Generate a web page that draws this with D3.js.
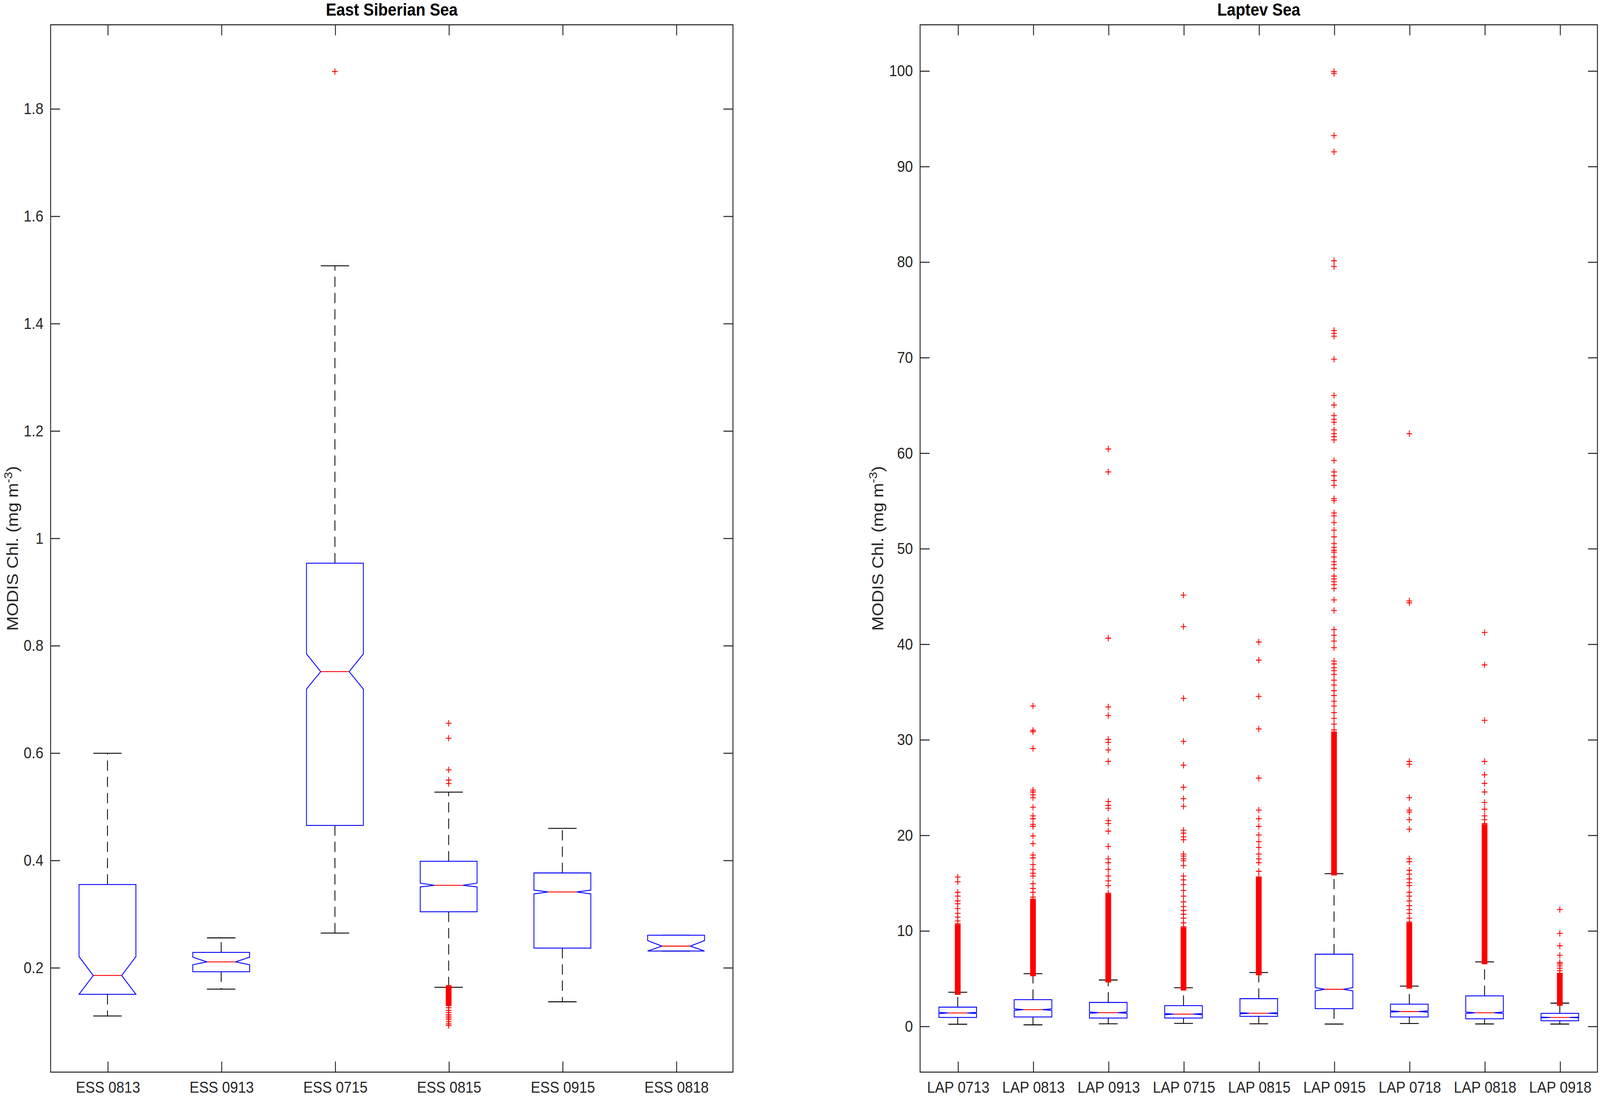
<!DOCTYPE html>
<html>
<head>
<meta charset="utf-8">
<script src="https://cdn.jsdelivr.net/npm/d3@7"></script>
<style>
  html, body { margin: 0; padding: 0; background: #fff; overflow: hidden; }
  svg { display: block; width: 100vw; height: 100vh; }
</style>
</head>
<body>
<div id="viz"></div>
<script>
// ---- East Siberian Sea ----
const essCategories = ['ESS 0813', 'ESS 0913', 'ESS 0715', 'ESS 0815', 'ESS 0915', 'ESS 0818'];
const essWhiskerLo = [0.1095, 0.1596, 0.264, 0.163, 0.136, 0.2306];
const essQ1        = [0.150, 0.192, 0.4645, 0.3037, 0.236, 0.2306];
const essNotchLo   = [0.150, 0.205, 0.7186, 0.350, 0.337, 0.2306];
const essMedian    = [0.185, 0.2104, 0.751, 0.353, 0.3406, 0.2397];
const essNotchHi   = [0.220, 0.219, 0.784, 0.357, 0.344, 0.250];
const essQ3        = [0.3545, 0.228, 0.953, 0.3977, 0.376, 0.260];
const essWhiskerHi = [0.599, 0.255, 1.507, 0.5265, 0.459, 0.260];
const essOutliers  = [
  [], [], [1.869],
  [0.655, 0.627, 0.568, 0.549, 0.5425, 0.129, 0.125, 0.120, 0.116, 0.112, 0.109, 0.106, 0.103, 0.099, 0.095, 0.092],
  [], []
];
// runs of outliers so close together that the markers merge into a solid bar
const essDense = [[], [], [], [[0.134, 0.161]], [], []];
const essTicks = [0.2, 0.4, 0.6, 0.8, 1, 1.2, 1.4, 1.6, 1.8];
const essDomain = [0.005, 1.956];

// ---- Laptev Sea ----
const lapCategories = ['LAP 0713', 'LAP 0813', 'LAP 0913', 'LAP 0715', 'LAP 0815', 'LAP 0915', 'LAP 0718', 'LAP 0818', 'LAP 0918'];
const lapWhiskerLo = [0.19, 0.13, 0.24, 0.28, 0.24, 0.21, 0.27, 0.22, 0.21];
const lapQ1        = [0.90, 0.95, 0.84, 0.84, 1.01, 1.82, 0.95, 0.76, 0.55];
const lapNotchLo   = [1.31, 1.64, 1.33, 1.19, 1.28, 3.68, 1.45, 1.31, 0.86];
const lapMedian    = [1.37, 1.72, 1.40, 1.25, 1.34, 3.85, 1.52, 1.39, 0.90];
const lapNotchHi   = [1.43, 1.80, 1.47, 1.31, 1.40, 4.02, 1.59, 1.47, 0.94];
const lapQ3        = [1.98, 2.76, 2.47, 2.14, 2.87, 7.52, 2.29, 3.16, 1.33];
const lapWhiskerHi = [3.54, 5.48, 4.82, 4.01, 5.60, 15.95, 4.18, 6.72, 2.40];
const lapOutliers  = [
  [15.6, 15.1, 14.0, 13.6, 13.1, 12.8, 12.3, 11.8, 11.4, 11.0, 10.7],
  [33.5, 30.95, 30.8, 29.05, 24.7, 24.5, 24.2, 23.9, 22.9, 22.0, 21.7, 21.1, 20.9, 19.9, 19.1, 17.9, 17.6, 16.9, 16.4, 16.0, 15.7, 14.9, 14.4, 14.0, 13.5],
  [60.4, 58.0, 40.6, 33.4, 32.5, 30.0, 29.7, 28.9, 27.7, 23.5, 23.1, 22.8, 21.5, 21.2, 20.4, 18.8, 17.5, 17.1, 16.4, 15.7, 15.2, 14.7, 13.9],
  [45.1, 41.8, 34.3, 29.8, 27.3, 25.0, 23.8, 23.0, 20.5, 20.2, 19.8, 19.5, 18.0, 17.8, 17.5, 17.3, 16.8, 15.7, 15.3, 14.8, 14.2, 13.6, 13.0, 12.5, 12.1, 11.7, 11.3, 10.8, 10.4],
  [40.2, 38.3, 34.5, 31.1, 25.95, 22.6, 21.7, 20.9, 20.0, 19.3, 18.7, 18.0, 17.5, 17.1, 16.2, 15.6],
  [99.9, 99.7, 93.2, 91.5, 80.1, 79.5, 72.8, 72.5, 72.2, 69.8, 66.0, 65.0, 63.9, 63.5, 63.2, 62.4, 62.0, 61.7, 61.35,
   59.2, 58.0, 57.6, 57.1, 56.6, 55.2, 55.0, 53.7, 53.4, 52.7, 51.9, 51.2, 50.5, 50.1, 49.8, 49.6, 49.1, 48.6, 48.3,
   47.9, 47.1, 46.8, 46.5, 46.2, 45.8, 44.6, 43.5, 41.5, 40.9, 40.3, 39.6, 38.2, 37.9, 37.5, 37.2, 36.8, 36.2, 35.7,
   35.1, 34.6, 34.0, 33.5, 32.8, 32.2, 31.6, 31.0],
  [62.0, 44.5, 44.3, 27.7, 27.4, 23.9, 22.6, 22.4, 21.6, 20.6, 17.5, 17.2, 16.3, 15.9, 15.4, 15.0, 14.7, 14.0, 13.6, 13.1, 12.6, 12.2, 11.8, 11.3, 10.9],
  [41.2, 37.8, 32.0, 27.7, 26.3, 25.4, 24.5, 23.4, 22.7, 22.0, 21.6, 21.2],
  [12.2, 9.7, 8.4, 7.4, 6.65, 6.5, 6.3, 6.05, 5.8, 5.5]
];
const lapDense = [
  [[3.6, 10.3]], [[5.55, 13.0]], [[4.9, 13.5]], [[4.05, 10.0]], [[5.65, 15.3]],
  [[16.1, 30.5]], [[4.25, 10.5]], [[6.8, 20.8]], [[2.45, 5.25]]
];
const lapTicks = [0, 10, 20, 30, 40, 50, 60, 70, 80, 90, 100];
const lapDomain = [-4.82, 104.8];

// ---- drawing ----
const font = '"Liberation Sans", Arial, Helvetica, sans-serif';
const ink = '#262626';
const tickLen = 9.3;
const plus = 2.8; // half size of the '+' marker

const svg = d3.select('#viz')
  .append('svg')
    .attr('viewBox', '0 0 1568 965.2')
    .attr('preserveAspectRatio', 'none')
    .style('background', '#fff');

const makeStats = (cats, lo, q1, nlo, med, nhi, q3, hi, out, dense) =>
  cats.map((c, i) => ({cat: c, lo: lo[i], q1: q1[i], nlo: nlo[i], med: med[i], nhi: nhi[i], q3: q3[i], hi: hi[i],
                       out: out[i], dense: dense[i]}));

const drawPanel = (p) => {
  const x = d3.scalePoint().domain(p.stats.map(d => d.cat)).range([p.left, p.right]).padding(0.5);
  const y = d3.scaleLinear().domain(p.domain).range([p.bottom, p.top]);
  const hw = x.step() * 0.25;
  const g = svg.append('g');

  const styleAxis = (sel) => {
    sel.attr('font-family', font).attr('font-size', 14);
    sel.select('.domain').remove();
    sel.selectAll('line').attr('stroke', ink).attr('stroke-width', 0.9);
    sel.selectAll('text').attr('fill', ink);
  };

  g.append('g')
    .attr('transform', `translate(${p.left},0)`)
    .call(d3.axisLeft(y).tickValues(p.ticks).tickFormat(d3.format('~g')).tickSizeInner(-tickLen).tickSizeOuter(0).tickPadding(7))
    .call(styleAxis);
  g.append('g')
    .attr('transform', `translate(${p.right},0)`)
    .call(d3.axisRight(y).tickValues(p.ticks).tickFormat('').tickSizeInner(-tickLen).tickSizeOuter(0))
    .call(styleAxis);
  g.append('g')
    .attr('transform', `translate(0,${p.bottom})`)
    .call(d3.axisBottom(x).tickSizeInner(-tickLen).tickSizeOuter(0).tickPadding(8.2))
    .call(styleAxis);
  g.append('g')
    .attr('transform', `translate(0,${p.top})`)
    .call(d3.axisTop(x).tickFormat('').tickSizeInner(-tickLen).tickSizeOuter(0))
    .call(styleAxis);

  g.append('rect')
    .attr('x', p.left).attr('y', p.top)
    .attr('width', p.right - p.left).attr('height', p.bottom - p.top)
    .attr('fill', 'none').attr('stroke', ink).attr('stroke-width', 0.9);

  g.append('text')
    .attr('x', (p.left + p.right) / 2).attr('y', 13.6)
    .attr('text-anchor', 'middle')
    .attr('font-family', font).attr('font-size', 15.4).attr('font-weight', 'bold')
    .attr('fill', '#000')
    .text(p.title);

  const yl = g.append('text')
    .attr('transform', `translate(${p.labelX},${(p.top + p.bottom) / 2}) rotate(-90)`)
    .attr('text-anchor', 'middle')
    .attr('font-family', font).attr('font-size', 15.4)
    .attr('fill', ink);
  yl.append('tspan').text('MODIS Chl. (mg m');
  yl.append('tspan').attr('dy', -6).attr('font-size', 11).text('-3');
  yl.append('tspan').attr('dy', 6).text(')');

  const box = g.selectAll('g.box').data(p.stats).join('g').attr('class', 'box');

  // whiskers
  box.selectAll('line.wh')
    .data(d => [[d.q3, d.hi, d.cat], [d.q1, d.lo, d.cat]])
    .join('line').attr('class', 'wh')
      .attr('x1', d => x(d[2])).attr('x2', d => x(d[2]))
      .attr('y1', d => y(d[0])).attr('y2', d => y(d[1]))
      .attr('stroke', '#000').attr('stroke-width', 0.8)
      .attr('stroke-dasharray', '9,5.3');
  box.selectAll('line.cap')
    .data(d => [[d.hi, d.cat], [d.lo, d.cat]])
    .join('line').attr('class', 'cap')
      .attr('x1', d => x(d[1]) - hw / 2).attr('x2', d => x(d[1]) + hw / 2)
      .attr('y1', d => y(d[0])).attr('y2', d => y(d[0]))
      .attr('stroke', '#000').attr('stroke-width', 0.8);

  // notched box
  const outline = d3.line();
  box.append('path')
    .attr('d', d => {
      const c = x(d.cat);
      return outline([
        [c - hw, y(d.q3)], [c - hw, y(d.nhi)], [c - hw / 2, y(d.med)], [c - hw, y(d.nlo)], [c - hw, y(d.q1)],
        [c + hw, y(d.q1)], [c + hw, y(d.nlo)], [c + hw / 2, y(d.med)], [c + hw, y(d.nhi)], [c + hw, y(d.q3)]
      ]) + 'Z';
    })
    .attr('fill', 'none').attr('stroke', '#0000ff').attr('stroke-width', 0.8)
    .attr('stroke-linejoin', 'miter');

  box.append('line')
    .attr('x1', d => x(d.cat) - hw / 2).attr('x2', d => x(d.cat) + hw / 2)
    .attr('y1', d => y(d.med)).attr('y2', d => y(d.med))
    .attr('stroke', '#ff0000').attr('stroke-width', 0.8);

  // outliers
  box.selectAll('rect.dense')
    .data(d => d.dense.map(r => [r[0], r[1], d.cat]))
    .join('rect').attr('class', 'dense')
      .attr('x', d => x(d[2]) - plus).attr('width', plus * 2)
      .attr('y', d => y(d[1]) - plus).attr('height', d => y(d[0]) - y(d[1]) + plus * 2)
      .attr('fill', '#ff0000');
  box.selectAll('path.out')
    .data(d => d.out.map(v => [v, d.cat]))
    .join('path').attr('class', 'out')
      .attr('d', d => {
        const cx = x(d[1]), cy = y(d[0]);
        return `M${cx - plus},${cy}H${cx + plus}M${cx},${cy - plus}V${cy + plus}`;
      })
      .attr('fill', 'none').attr('stroke', '#ff0000').attr('stroke-width', 0.8);
};

drawPanel({
  title: 'East Siberian Sea',
  left: 49.6, right: 718.3, top: 21.8, bottom: 943.3, labelX: 17.8,
  domain: essDomain, ticks: essTicks,
  stats: makeStats(essCategories, essWhiskerLo, essQ1, essNotchLo, essMedian, essNotchHi, essQ3, essWhiskerHi, essOutliers, essDense)
});

drawPanel({
  title: 'Laptev Sea',
  left: 901.7, right: 1565.5, top: 21.8, bottom: 943.3, labelX: 865.5,
  domain: lapDomain, ticks: lapTicks,
  stats: makeStats(lapCategories, lapWhiskerLo, lapQ1, lapNotchLo, lapMedian, lapNotchHi, lapQ3, lapWhiskerHi, lapOutliers, lapDense)
});
</script>
</body>
</html>
